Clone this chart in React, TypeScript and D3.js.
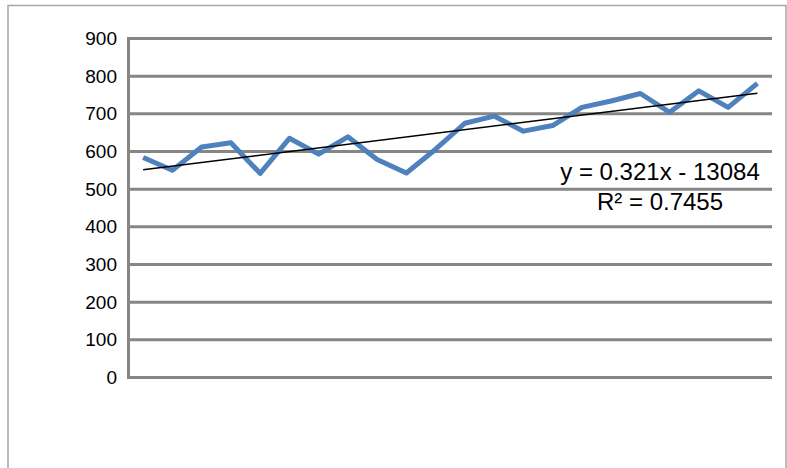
import React from "react";
import * as d3 from "d3";

const categories: string[] = Array.from({ length: 22 }, (_, i) => `P${i + 1}`);
const values: number[] = [584, 550, 612, 623, 542, 635, 593, 639, 579, 543, 606, 675, 694, 654, 669, 717, 734, 754, 704, 761, 717, 781];
const yTicks: number[] = [0, 100, 200, 300, 400, 500, 600, 700, 800, 900];
const equationLabel = "y = 0.321x - 13084";
const r2Label = "R² = 0.7455";

const W = 787;
const H = 468;
const plot = { left: 128.5, right: 772, top: 38.5, bottom: 377.5 };

export default function App() {
  const x = d3.scaleBand<string>().domain(categories).range([plot.left, plot.right]);
  const y = d3.scaleLinear().domain([0, 900]).range([plot.bottom, plot.top]);
  const cx = (c: string) => (x(c) ?? 0) + x.bandwidth() / 2;

  const line = d3
    .line<number>()
    .x((_, i) => cx(categories[i]))
    .y((d) => y(d));

  // linear regression on index
  const n = values.length;
  const idx = values.map((_, i) => i + 1);
  const mx = d3.mean(idx) as number;
  const my = d3.mean(values) as number;
  let sxy = 0, sxx = 0;
  idx.forEach((xi, i) => {
    sxy += (xi - mx) * (values[i] - my);
    sxx += (xi - mx) * (xi - mx);
  });
  const slope = sxy / sxx;
  const intercept = my - slope * mx;
  const trend = [
    { c: categories[0], v: intercept + slope * 1 },
    { c: categories[n - 1], v: intercept + slope * n },
  ];

  const font = "Arial, 'Liberation Sans', sans-serif";

  return (
    <svg
      width={W}
      height={H}
      style={{ position: "absolute", left: 0, top: 0, background: "#fff" }}
    >
      <rect x={8} y={5.5} width={778} height={470} fill="#fff" stroke="#a6a6a6" strokeWidth={1.5} />
      {yTicks.map((t) => (
        <g key={t}>
          <line x1={plot.left} x2={plot.right} y1={y(t)} y2={y(t)} stroke="#868686" strokeWidth={3} />
          <text
            x={117}
            y={y(t)}
            dy="0.35em"
            textAnchor="end"
            fontFamily={font}
            fontSize={19}
            fill="#000"
          >
            {t}
          </text>
        </g>
      ))}
      <line x1={plot.left} x2={plot.left} y1={plot.top - 1.5} y2={plot.bottom + 1.5} stroke="#868686" strokeWidth={3} />
      <path d={line(values) ?? ""} fill="none" stroke="#4F81BD" strokeWidth={5} strokeLinejoin="round" />
      <line
        x1={cx(trend[0].c)}
        y1={y(trend[0].v)}
        x2={cx(trend[1].c)}
        y2={y(trend[1].v)}
        stroke="#000"
        strokeWidth={1.5}
      />
      <text x={660} y={180} textAnchor="middle" fontFamily={font} fontSize={24} fill="#000">
        {equationLabel}
      </text>
      <text x={660} y={210} textAnchor="middle" fontFamily={font} fontSize={24} fill="#000">
        {r2Label}
      </text>
    </svg>
  );
}
